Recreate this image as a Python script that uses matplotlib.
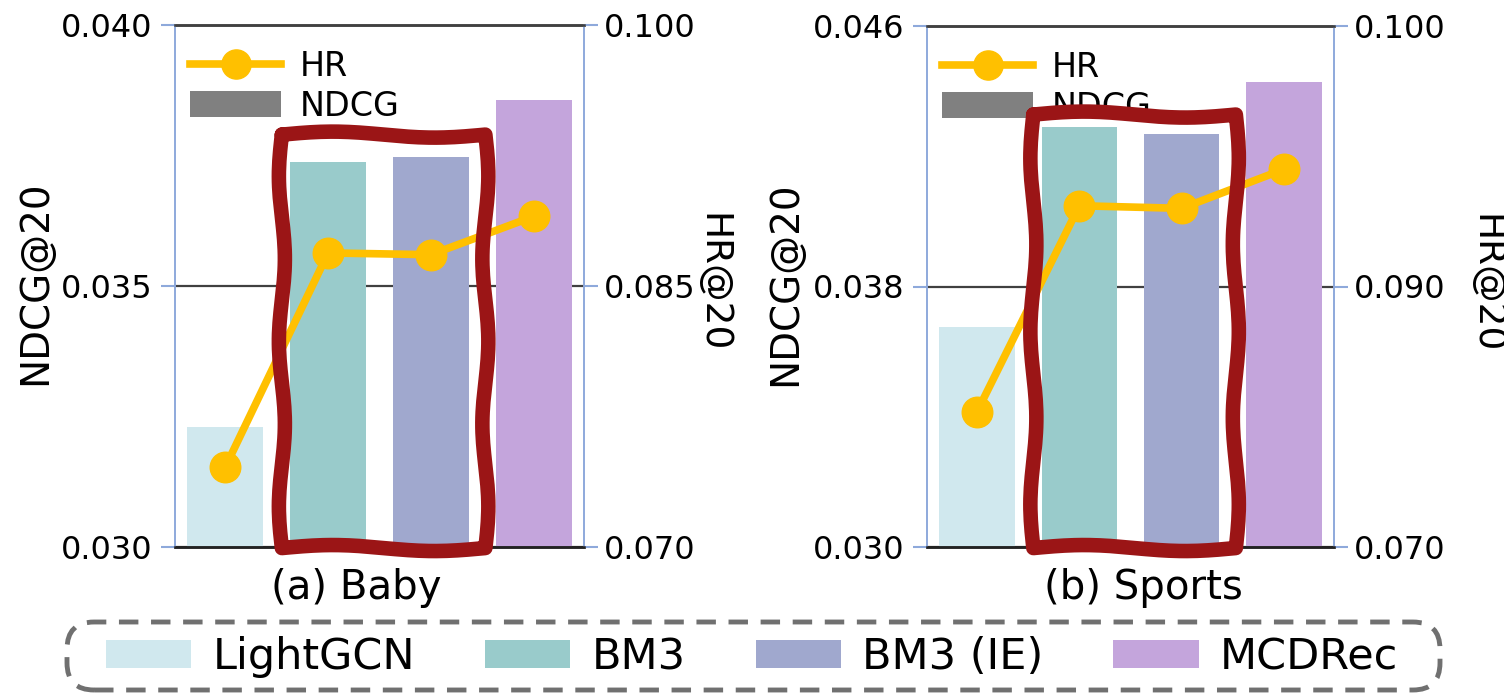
import matplotlib
matplotlib.use('Agg')
import numpy as np
import matplotlib.pyplot as plt
from matplotlib.patches import Patch, FancyBboxPatch
from matplotlib.lines import Line2D

# ---------------- data ----------------
methods = ['LightGCN', 'BM3', 'BM3 (IE)', 'MCDRec']
bar_colors = ['#D0E8EE', '#99CBCB', '#A0A8CE', '#C4A5DC']

baby_ndcg = [0.0323, 0.03738, 0.03747, 0.03856]
baby_hr = [0.0746, 0.0869, 0.0868, 0.0890]
sports_ndcg = [0.03677, 0.04289, 0.04268, 0.04428]
sports_hr = [0.0852, 0.0931, 0.0930, 0.0945]

baby_ndcg_ticks = [0.030, 0.035, 0.040]
baby_ndcg_ticklabels = ['0.030', '0.035', '0.040']
baby_hr_ticks = [0.070, 0.085, 0.100]
baby_hr_ticklabels = ['0.070', '0.085', '0.100']
sports_ndcg_ticks = [0.030, 0.038, 0.046]
sports_ndcg_ticklabels = ['0.030', '0.038', '0.046']
sports_hr_ticks = [0.080, 0.090, 0.100]
sports_hr_ticklabels = ['0.070', '0.090', '0.100']

titles = ['(a) Baby', '(b) Sports']
highlight = [1, 2]  # BM3 and BM3 (IE)

# ---------------- style ----------------
HR_COLOR = '#FFC000'
SPINE_BLUE = '#8EA9DB'
BOX_RED = '#9B1516'
FONT = ['DejaVu Sans']

W, H = 1504, 695
fig = plt.figure(figsize=(W / 100, H / 100), dpi=100)

panels = [
    dict(pos=[175 / W, (H - 547) / H, (584 - 175) / W, (547 - 25) / H],
         ndcg=baby_ndcg, hr=baby_hr,
         lt=baby_ndcg_ticks, ltl=baby_ndcg_ticklabels,
         rt=baby_hr_ticks, rtl=baby_hr_ticklabels,
         box_top=0.79, ylab_l=-0.342, ylab_r=1.315, title_x=0.443),
    dict(pos=[927 / W, (H - 547) / H, (1334 - 927) / W, (547 - 26) / H],
         ndcg=sports_ndcg, hr=sports_hr,
         lt=sports_ndcg_ticks, ltl=sports_ndcg_ticklabels,
         rt=sports_hr_ticks, rtl=sports_hr_ticklabels,
         box_top=0.83, ylab_l=-0.349, ylab_r=1.373, title_x=0.531),
]


def wavy_box(ax2, x0, x1, y0, y1, axw, axh):
    """Hand-drawn looking rectangle; x in data units, y in axes fraction."""
    xl = ax2.get_xlim()
    fx0 = (x0 - xl[0]) / (xl[1] - xl[0])
    fx1 = (x1 - xl[0]) / (xl[1] - xl[0])
    ax_amp = 3.0 / axw
    ay_amp = 3.0 / axh
    n = 80
    t = np.linspace(0, 1, n)
    segs = []
    segs.append((fx0 + (fx1 - fx0) * t,
                 y1 + ay_amp * np.sin(np.pi * 2 * t)))
    segs.append((fx1 + ax_amp * np.sin(np.pi * 5 * t),
                 y1 + (y0 - y1) * t))
    segs.append((fx1 + (fx0 - fx1) * t,
                 y0 - ay_amp * np.sin(np.pi * 2 * t)))
    segs.append((fx0 - ax_amp * np.sin(np.pi * 5 * t),
                 y0 + (y1 - y0) * t))
    xs = np.concatenate([s[0] for s in segs])
    ys = np.concatenate([s[1] for s in segs])
    ax2.plot(xs, ys, color=BOX_RED, lw=10.5,
             transform=ax2.transAxes, clip_on=False, zorder=20,
             solid_joinstyle='round', solid_capstyle='round')


x = np.arange(len(methods))
for i, p in enumerate(panels):
    ax = fig.add_axes(p['pos'])
    ax2 = ax.twinx()
    axw = p['pos'][2] * W
    axh = p['pos'][3] * H

    ax.bar(x, p['ndcg'], width=0.74, color=bar_colors, zorder=2)
    ax.set_xlim(-0.49, len(methods) - 1 + 0.49)
    ax.set_ylim(p['lt'][0], p['lt'][-1])
    ax.set_yticks(p['lt'])
    ax.set_yticklabels(p['ltl'])
    ax.set_xticks([])
    ax.set_axisbelow(True)
    ax.yaxis.grid(True, color='#404040', lw=1.6)

    ax2.plot(x, p['hr'], color=HR_COLOR, lw=5.5, marker='o', markersize=22,
             zorder=5)
    ax2.set_ylim(p['rt'][0], p['rt'][-1])
    ax2.set_yticks(p['rt'])
    ax2.set_yticklabels(p['rtl'])

    for a in (ax, ax2):
        a.spines['left'].set_color(SPINE_BLUE)
        a.spines['right'].set_color(SPINE_BLUE)
        a.spines['left'].set_linewidth(1.2)
        a.spines['right'].set_linewidth(1.2)
        a.spines['top'].set_color('#404040')
        a.spines['top'].set_linewidth(1.8)
        a.spines['bottom'].set_color('#222222')
        a.spines['bottom'].set_linewidth(1.8)
        a.tick_params(axis='y', colors=SPINE_BLUE, labelcolor='black',
                      length=10, width=1.5, labelsize=23)
        for lab in a.get_yticklabels():
            lab.set_family(FONT)
    ax.tick_params(axis='y', pad=6)
    ax2.tick_params(axis='y', pad=4)

    ax.set_ylabel('NDCG@20', fontsize=28, family=FONT, va='center')
    ax.yaxis.set_label_coords(p['ylab_l'], 0.506)
    ax2.set_ylabel('HR@20', fontsize=27, family=FONT, rotation=270,
                   va='center')
    ax2.yaxis.set_label_coords(p['ylab_r'], 0.506)

    ax.text(p['title_x'], -0.04, titles[i], transform=ax.transAxes,
            ha='center', va='top', fontsize=29, family=FONT)

    handles = [Line2D([], [], color=HR_COLOR, lw=5.5, marker='o',
                      markersize=21),
               Patch(facecolor='#808080', edgecolor='none')]
    leg = ax2.legend(handles, ['HR', 'NDCG'], loc='upper left',
                     bbox_to_anchor=(-0.025, 1.0), frameon=False,
                     prop={'family': FONT, 'size': 24},
                     handlelength=2.75, handleheight=0.85, handletextpad=0.55,
                     labelspacing=0.2, borderaxespad=0.45, borderpad=0.3)
    leg.set_zorder(3)

    wavy_box(ax2, highlight[0] - 0.45, highlight[-1] + 0.53, -0.002,
             p['box_top'], axw, axh)

# ---------------- bottom legend ----------------
leg_handles = [Patch(facecolor=c, edgecolor='none') for c in bar_colors]
fleg = fig.legend(leg_handles, methods, loc='center',
                  bbox_to_anchor=(752 / W, (H - 657) / H), ncol=4,
                  prop={'family': FONT, 'size': 31},
                  handlelength=1.98, handleheight=0.65, handletextpad=0.49,
                  columnspacing=1.63, borderpad=0.0, frameon=False)

frame = FancyBboxPatch((67 / W, (H - 690) / H), (1440 - 67) / W,
                       (690 - 622) / H, transform=fig.transFigure,
                       boxstyle='round,pad=0,rounding_size=0.018',
                       mutation_aspect=W / H,
                       facecolor='none', edgecolor='#707070', lw=3.5,
                       linestyle=(0, (4, 2.6)), zorder=0)
fig.patches.append(frame)

fig.savefig('out.png', dpi=100)
